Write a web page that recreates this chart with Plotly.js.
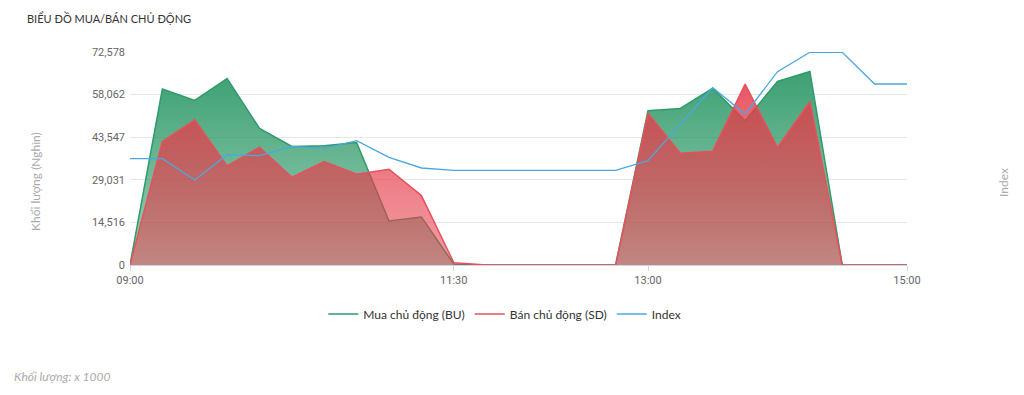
<!DOCTYPE html>
<html>
<head>
<meta charset="utf-8">
<script src="https://cdn.plot.ly/plotly-3.0.1.min.js"></script>
<style>html,body{margin:0;padding:0;background:#fff;}#chart{width:1024px;height:395px;}</style>
</head>
<body>
<div id="chart"></div>
<script>
// ---- data ----
var times = ["09:00","09:15","09:30","09:45","10:00","10:15","10:30","10:45","11:00","11:15","11:30","11:45",
             "12:00","12:15","12:30","12:45","13:00","13:15","13:30","13:45","14:00","14:15","14:30","14:45","15:00"];
var buyVolume  = [0,59950,56060,63570,46510,40370,40600,41740,15010,16380,300,0,0,0,0,0,52540,53340,60280,49130,62550,65960,0,0,0];
var sellVolume = [0,42070,49470,33780,40150,29910,35250,30940,32640,23650,800,0,0,0,0,0,51750,38100,38790,61640,40030,55720,0,0,0];
var indexValue = [1224.92,1224.92,1215.92,1226.61,1226.18,1230.15,1229.31,1232.52,1225.51,1220.99,1220.01,1220.01,
                  1220.01,1220.01,1220.01,1220.01,1224.07,1239.58,1254.92,1243.80,1261.68,1269.87,1269.87,1256.48,1256.48];
var yTickVals = [0,14516,29031,43547,58062,72578];
var xTickLabels = ["09:00","11:30","13:00","15:00"];
var seriesNames = ["Mua chủ động (BU)","Bán chủ động (SD)","Index"];

var day = "2024-01-02 ";
var x = times.map(function(t){return day + t;});
var xTicks = xTickLabels.map(function(t){return day + t;});

var GREEN = "#2e9b6a", RED = "#e8505b", BLUE = "#4aa8e0";
var FONT = "Lato, 'Noto Sans', sans-serif";

var traces = [
  {x:x, y:buyVolume, type:"scatter", mode:"lines", name:seriesNames[0], showlegend:false,
   line:{color:GREEN, width:1.5}, fill:"tozeroy",
   fillgradient:{type:"vertical", colorscale:[[0,"rgba(40,150,100,0.45)"],[1,"rgba(40,150,100,0.9)"]]},
   hoverinfo:"skip"},
  {x:x, y:sellVolume, type:"scatter", mode:"lines", name:seriesNames[1], showlegend:false,
   line:{color:RED, width:1.5}, fill:"tozeroy",
   fillgradient:{type:"vertical", colorscale:[[0,"rgba(230,60,75,0.5)"],[1,"rgba(230,60,75,0.85)"]]},
   hoverinfo:"skip"},
  {x:x, y:indexValue, type:"scatter", mode:"lines", name:seriesNames[2], yaxis:"y2", showlegend:false,
   line:{color:BLUE, width:1.3}, hoverinfo:"skip"},
  // legend entries (line symbols only)
  {x:[null], y:[null], type:"scatter", mode:"lines", name:seriesNames[0], line:{color:GREEN, width:1.5}},
  {x:[null], y:[null], type:"scatter", mode:"lines", name:seriesNames[1], line:{color:RED, width:1.5}},
  {x:[null], y:[null], type:"scatter", mode:"lines", name:seriesNames[2], line:{color:BLUE, width:1.5}}
];

var layout = {
  width:1024, height:395,
  margin:{l:130, r:117, t:52, b:130},
  paper_bgcolor:"#fff", plot_bgcolor:"#fff",
  font:{family:FONT, color:"#333"},
  title:{text:"BIỂU ĐỒ MUA/BÁN CHỦ ĐỘNG", xref:"container", yref:"container",
         x:27/1024, xanchor:"left", y:1-19/395, yanchor:"middle",
         font:{family:FONT, size:11, color:"#333"}},
  xaxis:{type:"date", range:[day+"09:00", day+"15:00"], tickvals:xTicks, ticktext:xTickLabels,
         showgrid:false, showline:true, linecolor:"#ccd6eb", linewidth:1,
         ticks:"outside", ticklen:5, tickcolor:"#ccd6eb", zeroline:false,
         tickfont:{family:"Roboto, sans-serif", size:11, color:"#666"}, fixedrange:true},
  yaxis:{range:[0,72578], tickvals:yTickVals, tickformat:",d", showgrid:true, gridcolor:"#e6e6e6",
         zeroline:false, showline:false, ticks:"", ticklabelstandoff:4,
         tickfont:{family:"Roboto, sans-serif", size:11, color:"#666"}, fixedrange:true},
  yaxis2:{overlaying:"y", side:"right", range:[1180,1270], showgrid:false, showticklabels:false,
          zeroline:false, showline:false, ticks:"", fixedrange:true},
  legend:{orientation:"h", xref:"container", yref:"container", x:0.493, xanchor:"center",
          y:1-314/395, yanchor:"middle", font:{family:FONT, size:12, color:"#333"}, itemwidth:30},
  annotations:[
    {text:"Khối lượng (Nghìn)", textangle:-90, xref:"paper", yref:"paper",
     x:(36-130)/777, y:(265-182)/213, xanchor:"center", yanchor:"middle", showarrow:false,
     font:{family:FONT, size:12, color:"#aaa"}},
    {text:"Index", textangle:-90, xref:"paper", yref:"paper",
     x:(1004-130)/777, y:(265-182)/213, xanchor:"center", yanchor:"middle", showarrow:false,
     font:{family:FONT, size:12, color:"#aaa"}},
    {text:"<i>Khối lượng: x 1000</i>", xref:"paper", yref:"paper",
     x:(12-130)/777, y:(265-376)/213, xanchor:"left", yanchor:"middle", showarrow:false,
     font:{family:FONT, size:12, color:"#aaa"}}
  ]
};

Plotly.newPlot("chart", traces, layout, {displayModeBar:false, staticPlot:true});
</script>
</body>
</html>
